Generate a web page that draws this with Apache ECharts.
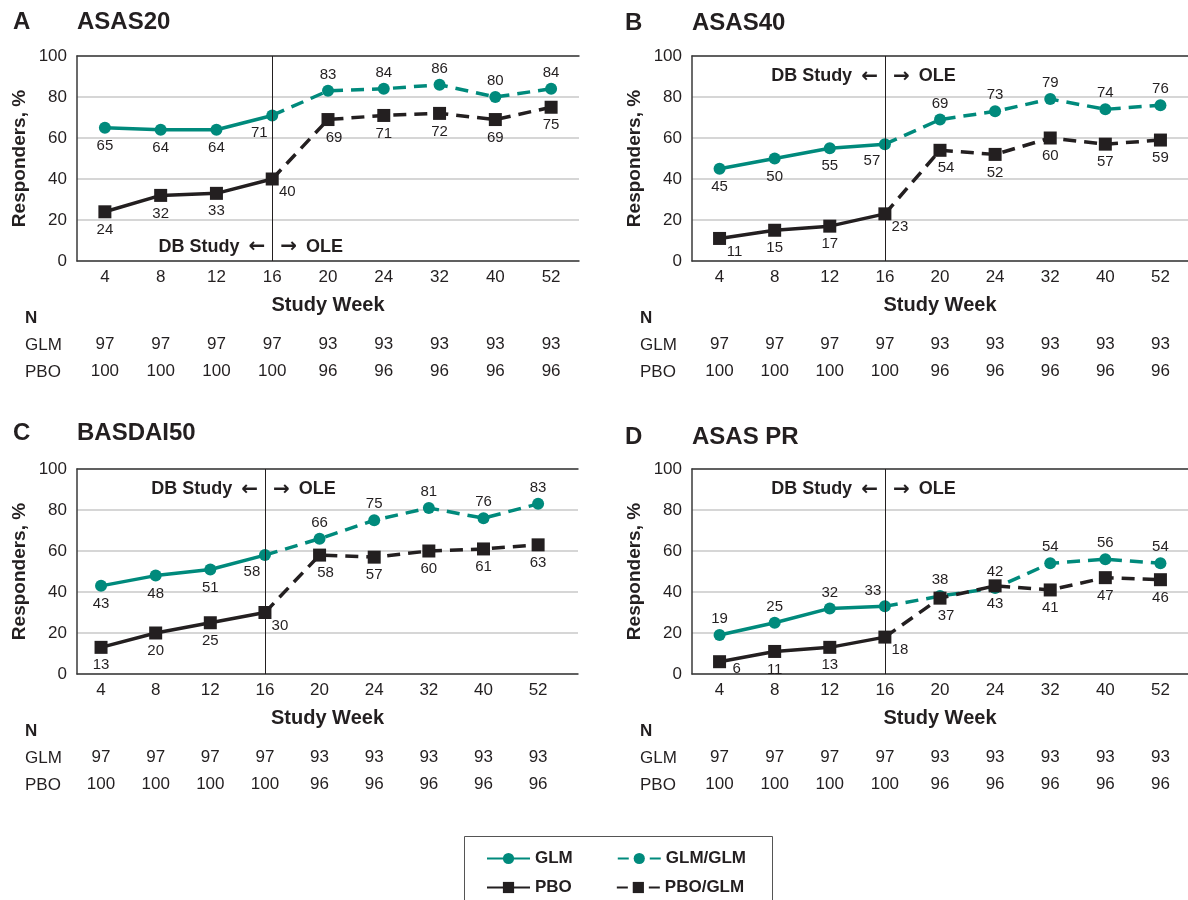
<!DOCTYPE html>
<html>
<head>
<meta charset="utf-8">
<script src="https://cdn.jsdelivr.net/npm/echarts@6/dist/echarts.min.js"></script>
<style>
html,body{margin:0;padding:0;background:#fff;}
#chart{width:1188px;height:900px;}
</style>
</head>
<body>
<div id="chart"></div>
<script>
// ---------- data ----------
const weeks = ['4', '8', '12', '16', '20', '24', '32', '40', '52'];
const nGLM = [97, 97, 97, 97, 93, 93, 93, 93, 93];
const nPBO = [100, 100, 100, 100, 96, 96, 96, 96, 96];

// double-blind (weeks 4-16) and open-label extension (weeks 20-52) values
const asas20_GLM = [65, 64, 64, 71];
const asas20_GLMGLM = [83, 84, 86, 80, 84];
const asas20_PBO = [24, 32, 33, 40];
const asas20_PBOGLM = [69, 71, 72, 69, 75];

const asas40_GLM = [45, 50, 55, 57];
const asas40_GLMGLM = [69, 73, 79, 74, 76];
const asas40_PBO = [11, 15, 17, 23];
const asas40_PBOGLM = [54, 52, 60, 57, 59];

const basdai50_GLM = [43, 48, 51, 58];
const basdai50_GLMGLM = [66, 75, 81, 76, 83];
const basdai50_PBO = [13, 20, 25, 30];
const basdai50_PBOGLM = [58, 57, 60, 61, 63];

const asaspr_GLM = [19, 25, 32, 33];
const asaspr_GLMGLM = [38, 42, 54, 56, 54];
const asaspr_PBO = [6, 11, 13, 18];
const asaspr_PBOGLM = [37, 43, 41, 47, 46];

// ---------- styles / layout ----------
const FONT = '"Liberation Sans", Arial, Helvetica, sans-serif';
const TXT = '#231f20';
const TEAL = '#008a7c';
const BLK = '#231f20';
const AXIS = '#3a3a3a';
const GRIDC = '#c8c8c8';
const DASH = [13, 8];

const OFF = { b: [0, 18], t: [0, -16], lb: [-13, 17], rb: [15, 13], br: [6, 18], lt: [-12, -15], r: [17, 7] };

const panels = [
  { letter: 'A', title: 'ASAS20', left: 77, right: 609, top: 56, height: 205, xMin: -0.5, xMax: 8.5,
    titleTop: 10, letterLeft: 13, noteY: 7,
    glm: asas20_GLM, gg: asas20_GLMGLM, pbo: asas20_PBO, pg: asas20_PBOGLM,
    lGlm: ['b', 'b', 'b', 'lb'], lGg: ['t', 't', 't', 't', 't'], lPbo: ['b', 'b', 'b', 'rb'], lPg: ['br', 'b', 'b', 'b', 'b'] },
  { letter: 'B', title: 'ASAS40', left: 692, right: -6, top: 56, height: 205, xMin: -0.5, xMax: 8.5,
    titleTop: 11, letterLeft: 625, noteY: 90,
    glm: asas40_GLM, gg: asas40_GLMGLM, pbo: asas40_PBO, pg: asas40_PBOGLM,
    lGlm: ['b', 'b', 'b', 'lb'], lGg: ['t', 't', 't', 't', 't'], lPbo: ['rb', 'b', 'b', 'rb'], lPg: ['br', 'b', 'b', 'b', 'b'] },
  { letter: 'C', title: 'BASDAI50', left: 77, right: 610, top: 469, height: 205, xMin: -0.44, xMax: 8.73,
    titleTop: 421, letterLeft: 13, noteY: 90,
    glm: basdai50_GLM, gg: basdai50_GLMGLM, pbo: basdai50_PBO, pg: basdai50_PBOGLM,
    lGlm: ['b', 'b', 'b', 'lb'], lGg: ['t', 't', 't', 't', 't'], lPbo: ['b', 'b', 'b', 'rb'], lPg: ['br', 'b', 'b', 'b', 'b'] },
  { letter: 'D', title: 'ASAS PR', left: 692, right: -6, top: 469, height: 205, xMin: -0.5, xMax: 8.5,
    titleTop: 425, letterLeft: 625, noteY: 90,
    glm: asaspr_GLM, gg: asaspr_GLMGLM, pbo: asaspr_PBO, pg: asaspr_PBOGLM,
    lGlm: ['t', 't', 't', 'lt'], lGg: ['t', 't', 't', 't', 't'], lPbo: ['r', 'b', 'b', 'rb'], lPg: ['br', 'b', 'b', 'b', 'b'] }
];

const idx = weeks.map((w, i) => i);

function lbl(code) {
  return { show: true, position: 'inside', offset: OFF[code], fontSize: 15, color: TXT, fontFamily: FONT };
}
function solidData(vals, codes) {
  return vals.map((v, i) => ({ value: [i, v], label: lbl(codes[i]) }));
}
function dashData(start, vals, codes) {
  const out = [{ value: [3, start], symbol: 'none', label: { show: false } }];
  vals.forEach((v, i) => out.push({ value: [4 + i, v], label: lbl(codes[i]) }));
  return out;
}

const grid = [], xAxis = [], yAxis = [], series = [], title = [], graphic = [];

const noteRich = {
  t: { fontFamily: FONT, fontSize: 18, fontWeight: 'bold', color: TXT },
  tl: { fontFamily: FONT, fontSize: 18, fontWeight: 'bold', color: TXT, padding: [0, 9, 0, 0] },
  a: { fontFamily: '"DejaVu Sans"', fontSize: 20, fontWeight: 'bold', color: TXT },
  ar: { fontFamily: '"DejaVu Sans"', fontSize: 20, fontWeight: 'bold', color: TXT, padding: [0, 9, 0, 0] }
};

panels.forEach((p, k) => {
  grid.push({ left: p.left, right: p.right, top: p.top, height: p.height });
  const bottom = p.top + p.height;

  title.push({ text: p.letter, left: p.letterLeft, top: p.titleTop, padding: 0,
    textStyle: { fontFamily: FONT, fontSize: 24, fontWeight: 'bold', color: TXT } });
  title.push({ text: p.title, left: p.left, top: p.titleTop, padding: 0,
    textStyle: { fontFamily: FONT, fontSize: 24, fontWeight: 'bold', color: TXT } });

  // main x axis
  xAxis.push({ gridIndex: k, type: 'value', min: p.xMin, max: p.xMax, position: 'bottom',
    axisLine: { show: true, onZero: false, lineStyle: { color: AXIS, width: 1.5 } },
    axisTick: { show: false }, splitLine: { show: false },
    axisLabel: { customValues: idx, formatter: v => weeks[Math.round(v)], fontSize: 17, color: TXT, fontFamily: FONT, margin: 8 },
    name: 'Study Week', nameLocation: 'middle', nameGap: 34,
    nameTextStyle: { fontFamily: FONT, fontSize: 20, fontWeight: 'bold', color: TXT } });
  // top frame line
  xAxis.push({ gridIndex: k, type: 'value', min: p.xMin, max: p.xMax, position: 'top',
    axisLine: { show: true, onZero: false, lineStyle: { color: AXIS, width: 1.5 } },
    axisTick: { show: false }, splitLine: { show: false }, axisLabel: { show: false } });
  // N rows
  xAxis.push({ gridIndex: k, type: 'value', min: p.xMin, max: p.xMax, position: 'bottom', offset: 67,
    axisLine: { show: false, onZero: false }, axisTick: { show: false }, splitLine: { show: false },
    axisLabel: { customValues: idx, formatter: v => String(nGLM[Math.round(v)]), fontSize: 17, color: TXT, fontFamily: FONT, margin: 8 } });
  xAxis.push({ gridIndex: k, type: 'value', min: p.xMin, max: p.xMax, position: 'bottom', offset: 94,
    axisLine: { show: false, onZero: false }, axisTick: { show: false }, splitLine: { show: false },
    axisLabel: { customValues: idx, formatter: v => String(nPBO[Math.round(v)]), fontSize: 17, color: TXT, fontFamily: FONT, margin: 8 } });

  yAxis.push({ gridIndex: k, type: 'value', min: 0, max: 100, interval: 20, position: 'left',
    axisLine: { show: true, onZero: false, lineStyle: { color: AXIS, width: 1.5 } },
    axisTick: { show: false },
    axisLabel: { fontSize: 17, color: TXT, fontFamily: FONT, margin: 10 },
    splitLine: { show: true, lineStyle: { color: GRIDC, width: 1.5 } },
    name: 'Responders, %', nameLocation: 'middle', nameGap: 48,
    nameTextStyle: { fontFamily: FONT, fontSize: 19, fontWeight: 'bold', color: TXT } });

  const xi = k * 4;
  series.push({ name: 'GLM', type: 'line', xAxisIndex: xi, yAxisIndex: k,
    data: solidData(p.glm, p.lGlm), symbol: 'circle', symbolSize: 12, showSymbol: true,
    lineStyle: { color: TEAL, width: 3.5 }, itemStyle: { color: TEAL }, z: 3,
    markLine: { silent: true, symbol: 'none', label: { show: false },
      lineStyle: { color: BLK, width: 1, type: 'solid' }, data: [{ xAxis: 3 }] } });
  series.push({ name: 'GLM/GLM', type: 'line', xAxisIndex: xi, yAxisIndex: k,
    data: dashData(p.glm[3], p.gg, p.lGg), symbol: 'circle', symbolSize: 12, showSymbol: true,
    lineStyle: { color: TEAL, width: 3.5, type: DASH }, itemStyle: { color: TEAL }, z: 3 });
  series.push({ name: 'PBO', type: 'line', xAxisIndex: xi, yAxisIndex: k,
    data: solidData(p.pbo, p.lPbo), symbol: 'rect', symbolSize: 13, showSymbol: true,
    lineStyle: { color: BLK, width: 3.5 }, itemStyle: { color: BLK }, z: 4 });
  series.push({ name: 'PBO/GLM', type: 'line', xAxisIndex: xi, yAxisIndex: k,
    data: dashData(p.pbo[3], p.pg, p.lPg), symbol: 'rect', symbolSize: 13, showSymbol: true,
    lineStyle: { color: BLK, width: 3.5, type: DASH }, itemStyle: { color: BLK }, z: 4 });
  // period annotation
  series.push({ name: 'note', type: 'scatter', xAxisIndex: xi, yAxisIndex: k, symbolSize: 0, silent: true,
    itemStyle: { opacity: 1 },
    data: [
      { value: [3, p.noteY], label: { show: true, opacity: 1, position: 'left', distance: 7, formatter: '{tl|DB Study}{a|\u2190}', rich: noteRich } },
      { value: [3, p.noteY], label: { show: true, opacity: 1, position: 'right', distance: 8, formatter: '{ar|\u2192}{t|OLE}', rich: noteRich } }
    ] });

  // N table row headers
  const rx = p.left - 52;
  [['N', 57, 'bold'], ['GLM', 84, 'normal'], ['PBO', 111, 'normal']].forEach(r => {
    graphic.push({ type: 'text', x: rx, y: bottom + r[1], silent: true,
      style: { text: r[0], fill: TXT, fontFamily: FONT, fontSize: 17, fontWeight: r[2], verticalAlign: 'middle', align: 'left' } });
  });
});

// legend frame
graphic.push({ type: 'rect', silent: true, shape: { x: 464.5, y: 836.5, width: 308, height: 90 },
  style: { fill: 'none', stroke: '#555', lineWidth: 1 } });

const legendCommon = {
  left: 486, itemWidth: 43, itemHeight: 14, itemGap: 44, padding: 0, selectedMode: false,
  textStyle: { fontFamily: FONT, fontSize: 17, fontWeight: 'bold', color: TXT }
};
const dashedIcon = { type: [11, 21, 11] };
const legend = [
  Object.assign({}, legendCommon, { top: 850, data: ['GLM', { name: 'GLM/GLM', lineStyle: dashedIcon }] }),
  Object.assign({}, legendCommon, { top: 879, data: ['PBO', { name: 'PBO/GLM', lineStyle: dashedIcon }] })
];

const chart = echarts.init(document.getElementById('chart'), null, { renderer: 'canvas' });
chart.setOption({
  animation: false,
  backgroundColor: '#fff',
  textStyle: { fontFamily: FONT },
  title, legend, grid, xAxis, yAxis, series, graphic
});
</script>
</body>
</html>
